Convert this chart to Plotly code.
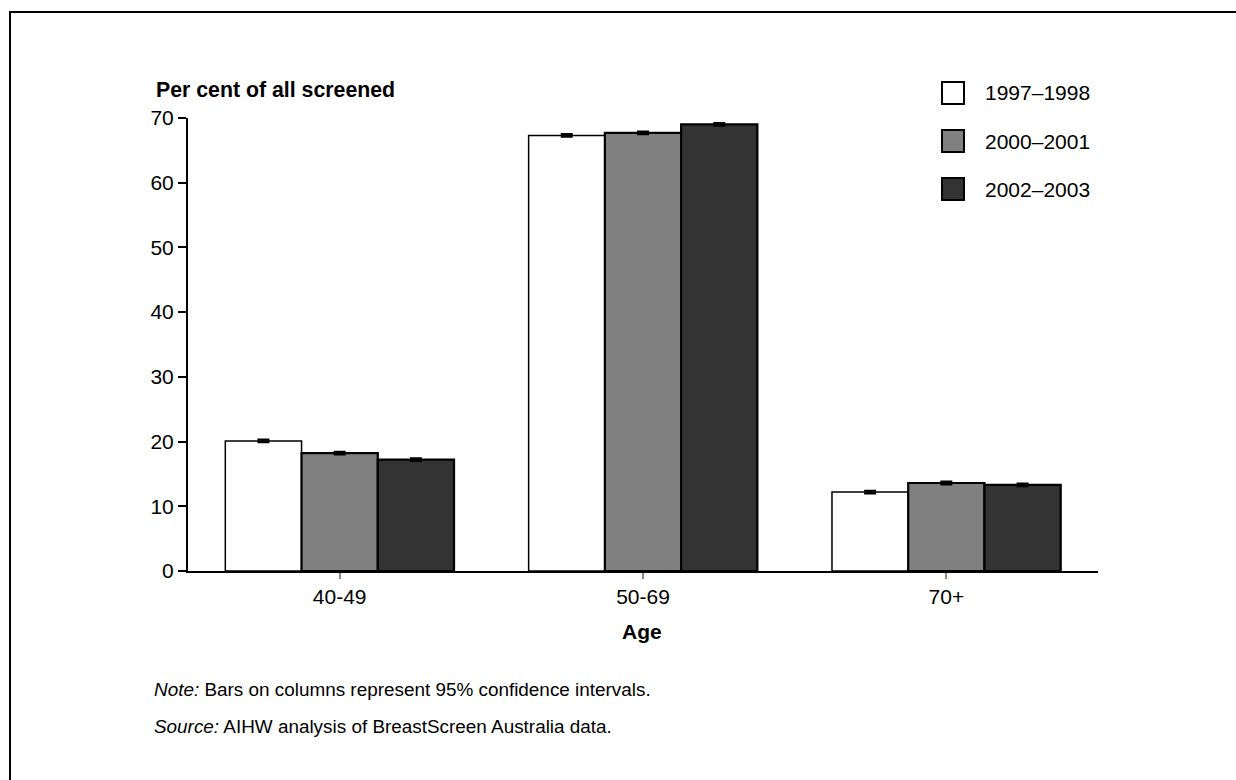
import plotly.graph_objects as go

categories = ["40-49", "50-69", "70+"]
series_names = ["1997–1998", "2000–2001", "2002–2003"]
values_1997 = [20.1, 67.3, 12.2]
values_2000 = [18.2, 67.7, 13.6]
values_2002 = [17.2, 69.0, 13.3]
ci_1997 = [0.2, 0.2, 0.2]
ci_2000 = [0.2, 0.2, 0.2]
ci_2002 = [0.2, 0.2, 0.2]
y_ticks = [0, 10, 20, 30, 40, 50, 60, 70]

fills = ["#ffffff", "#808080", "#333333"]
line_w = [1.5, 2.2, 2.2]
FONT = "Liberation Sans, Arial, sans-serif"

W, H = 1236, 780
L, R, T, B = 188, 1098, 118, 571

fig = go.Figure()
for name, vals, ci, col, lw in zip(series_names, [values_1997, values_2000, values_2002],
                                   [ci_1997, ci_2000, ci_2002], fills, line_w):
    fig.add_trace(go.Bar(
        x=categories, y=vals, name=name,
        marker=dict(color=col, line=dict(color="#000000", width=lw)),
        error_y=dict(type="data", array=ci, visible=True, color="#000000", thickness=2.2, width=6),
        showlegend=False,
    ))

def px_x(p):
    return (p - L) / (R - L)

def px_y(p):
    return (B - p) / (B - T)

shapes = []
annotations = []
# outer frame: only the left and top edges fall inside the picture
shapes.append(dict(type="line", xref="paper", yref="paper",
                   x0=px_x(10), x1=px_x(10), y0=px_y(11), y1=px_y(780),
                   line=dict(color="#000000", width=2)))
shapes.append(dict(type="line", xref="paper", yref="paper",
                   x0=px_x(9), x1=px_x(1236), y0=px_y(12), y1=px_y(12),
                   line=dict(color="#000000", width=2)))
# manual legend
legend_y = [93, 141, 189]
for name, col, yc in zip(series_names, fills, legend_y):
    shapes.append(dict(type="rect", xref="paper", yref="paper",
                       x0=px_x(942), x1=px_x(964), y0=px_y(yc + 11), y1=px_y(yc - 11),
                       line=dict(color="#000000", width=2), fillcolor=col))
    annotations.append(dict(text=name, xref="paper", yref="paper", x=px_x(983), y=px_y(yc),
                            xanchor="left", yanchor="middle", showarrow=False,
                            font=dict(family=FONT, size=21, color="#000000")))

annotations.append(dict(text="<b>Per cent of all screened</b>", xref="paper", yref="paper",
                        x=px_x(154), y=px_y(90), xanchor="left", yanchor="middle", showarrow=False,
                        font=dict(family=FONT, size=21.3, color="#000000")))
annotations.append(dict(text="<b>Age</b>", xref="paper", yref="paper",
                        x=px_x(642), y=px_y(631), xanchor="center", yanchor="middle", showarrow=False,
                        font=dict(family=FONT, size=21, color="#000000")))
annotations.append(dict(text="<i>Note:</i> Bars on columns represent 95% confidence intervals.",
                        xref="paper", yref="paper", x=px_x(152), y=px_y(689),
                        xanchor="left", yanchor="middle", showarrow=False,
                        font=dict(family=FONT, size=18.9, color="#000000")))
annotations.append(dict(text="<i>Source:</i> AIHW analysis of BreastScreen Australia data.",
                        xref="paper", yref="paper", x=px_x(152), y=px_y(726),
                        xanchor="left", yanchor="middle", showarrow=False,
                        font=dict(family=FONT, size=18.9, color="#000000")))

fig.update_layout(
    width=W, height=H,
    margin=dict(l=L, r=W - R, t=T, b=H - B, pad=0),
    paper_bgcolor="#ffffff", plot_bgcolor="#ffffff",
    barmode="group", bargap=0.246, bargroupgap=0,
    font=dict(family=FONT, size=21, color="#000000"),
    shapes=shapes, annotations=annotations,
    showlegend=False,
)
fig.update_xaxes(
    type="category", range=[-0.5, 2.5], showgrid=False, zeroline=False,
    showline=True, linecolor="#000000", linewidth=1.5,
    ticks="outside", ticklen=6, tickcolor="#888888", tickwidth=1.5,
    tickfont=dict(family=FONT, size=21, color="#000000"),
)
fig.update_yaxes(
    range=[0, 70], tickvals=y_ticks, showgrid=False, zeroline=False,
    showline=True, linecolor="#000000", linewidth=2,
    ticks="outside", ticklen=8, tickcolor="#000000", tickwidth=1.5,
    tickfont=dict(family=FONT, size=21, color="#000000"),
)

fig.write_html("out.html", config={"displayModeBar": False},
               post_script="document.body.style.margin='0';document.body.style.overflow='hidden';")
